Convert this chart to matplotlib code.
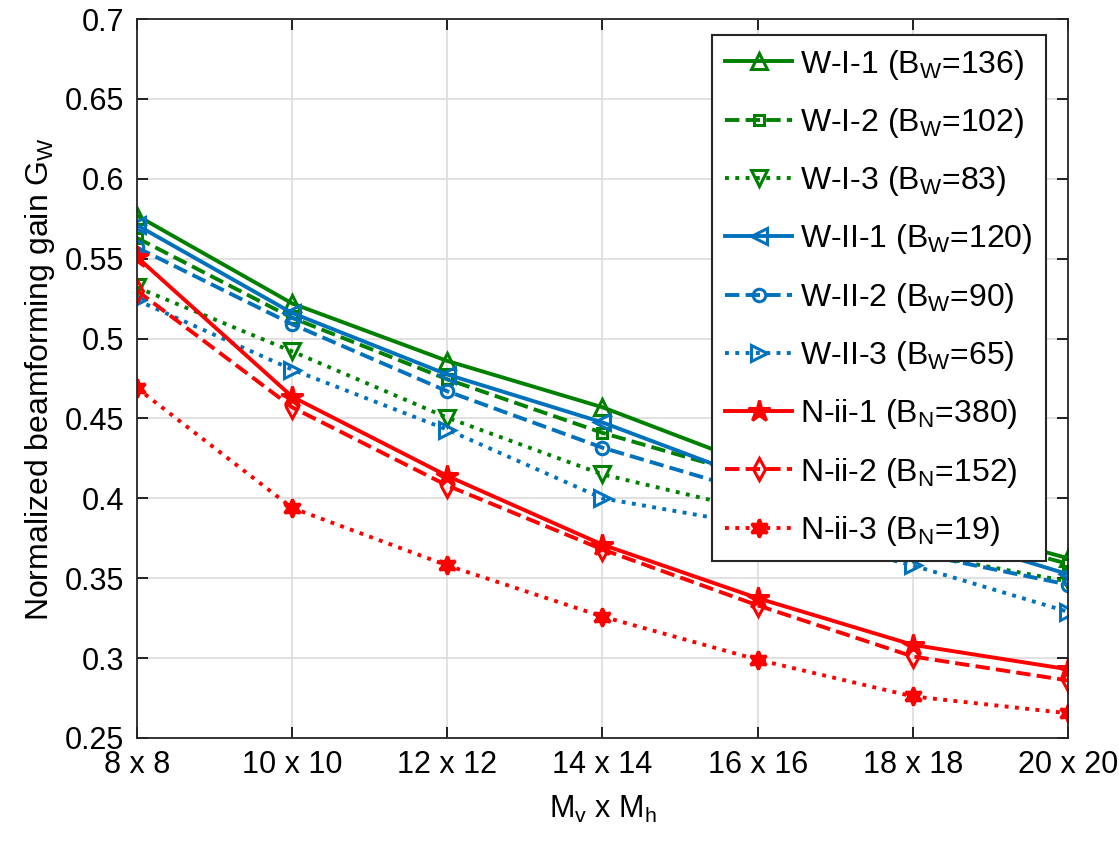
import numpy as np
import matplotlib.pyplot as plt

plt.rcParams['font.family'] = ['Liberation Sans', 'DejaVu Sans']
plt.rcParams['mathtext.fontset'] = 'custom'
plt.rcParams['mathtext.rm'] = 'Liberation Sans'

# x categories
sizes = ['8 x 8', '10 x 10', '12 x 12', '14 x 14', '16 x 16', '18 x 18', '20 x 20']

# series values (16x16 / 18x18 of W curves estimated behind legend)
w_i_1 = [0.577, 0.522, 0.486, 0.457, 0.420, 0.389, 0.3625]
w_i_2 = [0.563, 0.513, 0.4745, 0.441, 0.413, 0.385, 0.359]
w_i_3 = [0.532, 0.492, 0.4505, 0.415, 0.392, 0.366, 0.348]
w_ii_1 = [0.571, 0.516, 0.4775, 0.4475, 0.411, 0.382, 0.3525]
w_ii_2 = [0.557, 0.509, 0.467, 0.4317, 0.403, 0.366, 0.346]
w_ii_3 = [0.524, 0.4806, 0.443, 0.400, 0.383, 0.358, 0.329]
n_ii_1 = [0.551, 0.4636, 0.414, 0.371, 0.3375, 0.3083, 0.293]
n_ii_2 = [0.530, 0.457, 0.408, 0.368, 0.333, 0.301, 0.286]
n_ii_3 = [0.469, 0.394, 0.358, 0.326, 0.299, 0.276, 0.2655]

labels = ['W-I-1 (B$_\\mathregular{W}$=136)', 'W-I-2 (B$_\\mathregular{W}$=102)',
          'W-I-3 (B$_\\mathregular{W}$=83)', 'W-II-1 (B$_\\mathregular{W}$=120)',
          'W-II-2 (B$_\\mathregular{W}$=90)', 'W-II-3 (B$_\\mathregular{W}$=65)',
          'N-ii-1 (B$_\\mathregular{N}$=380)', 'N-ii-2 (B$_\\mathregular{N}$=152)',
          'N-ii-3 (B$_\\mathregular{N}$=19)']

green = '#008000'
blue = '#0072BD'
red = '#FF0000'
hexagram = (6, 1, 0)

x = np.arange(len(sizes))

fig = plt.figure(figsize=(11.19, 8.5), dpi=100)
ax = fig.add_axes([0.1224, 0.1318, 0.8320, 0.8458])

styles = [
    (w_i_1, green, '-', '^', 11, 'none'),
    (w_i_2, green, '--', 's', 7, 'none'),
    (w_i_3, green, ':', 'v', 11, 'none'),
    (w_ii_1, blue, '-', '<', 11, 'none'),
    (w_ii_2, blue, '--', 'o', 9, 'none'),
    (w_ii_3, blue, ':', '>', 11, 'none'),
    (n_ii_1, red, '-', '*', 16, red),
    (n_ii_2, red, '--', 'd', 11, 'none'),
    (n_ii_3, red, ':', hexagram, 13, red),
]

for (vals, c, ls, mk, ms, fc), lab in zip(styles, labels):
    ax.plot(x, vals, color=c, linestyle=ls, marker=mk, markersize=ms,
            markerfacecolor=fc, markeredgewidth=2.2, linewidth=2.8, label=lab)

ax.set_xlim(0, 6)
ax.set_ylim(0.25, 0.7)
ax.set_xticks(x)
ax.set_xticklabels(sizes)
ax.set_yticks(np.arange(0.25, 0.701, 0.05))
ax.set_yticklabels(['0.25', '0.3', '0.35', '0.4', '0.45', '0.5', '0.55', '0.6', '0.65', '0.7'])
ax.tick_params(direction='in', top=True, right=True, labelsize=22, length=8, width=1.2, pad=9)
ax.grid(True, color='#dcdcdc', linewidth=1.2)
ax.set_axisbelow(True)
for s in ax.spines.values():
    s.set_linewidth(1.3)
    s.set_color('#262626')

ax.set_xlabel('M$_\\mathregular{v}$ x M$_\\mathregular{h}$', fontsize=22, labelpad=10)
ax.set_ylabel('Normalized beamforming gain G$_\\mathregular{W}$', fontsize=23, labelpad=6)

leg = ax.legend(loc='upper right', bbox_to_anchor=(0.976, 0.978), borderaxespad=0,
                fontsize=23, handlelength=2.1, labelspacing=0.76, handletextpad=0.25,
                fancybox=False, framealpha=1, edgecolor='#262626', borderpad=0.4)
leg.get_frame().set_linewidth(1.5)

fig.savefig('out.png', dpi=100)
